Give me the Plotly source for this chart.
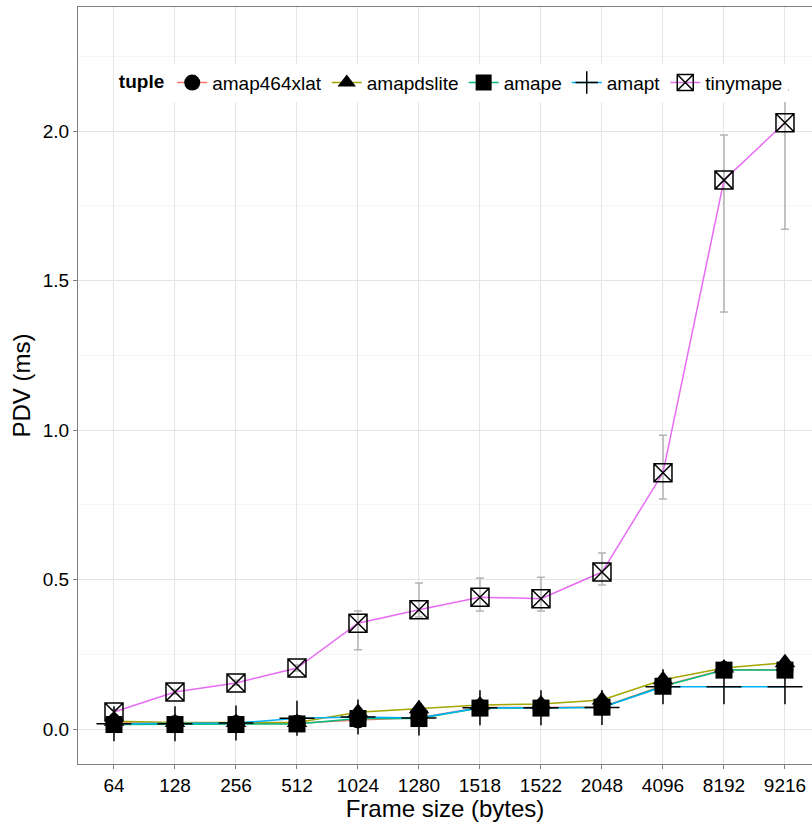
import plotly.graph_objects as go

frame_sizes = ["64", "128", "256", "512", "1024", "1280", "1518", "1522", "2048", "4096", "8192", "9216"]

amap464xlat = [0.020, 0.018, 0.018, 0.019, 0.030, 0.038, 0.072, 0.072, 0.074, 0.145, 0.198, 0.198]
amapdslite = [0.026, 0.022, 0.022, 0.022, 0.056, 0.068, 0.080, 0.084, 0.097, 0.165, 0.204, 0.222]
amape = [0.015, 0.015, 0.015, 0.017, 0.035, 0.035, 0.070, 0.070, 0.073, 0.143, 0.197, 0.197]
amapt = [0.018, 0.018, 0.020, 0.036, 0.040, 0.037, 0.071, 0.071, 0.072, 0.141, 0.141, 0.141]
tinymape = [0.057, 0.124, 0.154, 0.204, 0.354, 0.399, 0.441, 0.436, 0.525, 0.857, 1.836, 2.028]
tinymape_hi = [0.066, 0.132, 0.163, 0.214, 0.395, 0.488, 0.505, 0.508, 0.589, 0.983, 1.987, 2.137]
tinymape_lo = [0.048, 0.116, 0.146, 0.194, 0.265, 0.375, 0.395, 0.395, 0.482, 0.769, 1.395, 1.672]

series = [
    ("amap464xlat", amap464xlat, "#F8766D", dict(symbol="circle", size=17, color="black")),
    ("amapdslite", amapdslite, "#A3A500", dict(symbol="triangle-up", size=18, color="black")),
    ("amape", amape, "#00BF7D", dict(symbol="square", size=17, color="black")),
    ("amapt", amapt, "#00B0F6", dict(symbol="cross-thin", size=25, color="black", line=dict(width=1.5, color="black"))),
    ("tinymape", tinymape, "#E76BF3", dict(symbol="square-x-open", size=18, color="black", line=dict(width=1.5, color="black"))),
]

fig = go.Figure()

# error bars (grey) for tinymape
fig.add_trace(go.Scatter(
    x=frame_sizes, y=tinymape, mode="markers",
    marker=dict(size=1, color="rgba(0,0,0,0)"),
    error_y=dict(type="data", symmetric=False,
                 array=[h - v for h, v in zip(tinymape_hi, tinymape)],
                 arrayminus=[v - l for v, l in zip(tinymape, tinymape_lo)],
                 color="#B3B3B3", thickness=1.5, width=4),
    showlegend=False, hoverinfo="skip"))

# lines
for name, vals, col, mk in series:
    fig.add_trace(go.Scatter(x=frame_sizes, y=vals, mode="lines",
                             line=dict(color=col, width=1.5),
                             showlegend=False, legendgroup=name))
# markers
for name, vals, col, mk in series:
    fig.add_trace(go.Scatter(x=frame_sizes, y=vals, mode="markers",
                             marker=mk, showlegend=False, legendgroup=name))
# legend entries
for name, vals, col, mk in series:
    fig.add_trace(go.Scatter(x=[None], y=[None], mode="lines+markers", name=name,
                             line=dict(color=col, width=1.5), marker=mk,
                             legendgroup=name))

fig.update_layout(
    width=812, height=822,
    margin=dict(l=78, r=0, t=7, b=58),
    paper_bgcolor="white", plot_bgcolor="white",
    font=dict(family="Liberation Sans, Arial, sans-serif", color="black", size=19),
    showlegend=True,
    legend=dict(orientation="h", x=0.51, y=0.9, xanchor="center", yanchor="middle",
                bgcolor="white", font=dict(size=19), itemwidth=30,
                title=dict(text="<b>tuple</b>", font=dict(size=19))),
    xaxis=dict(type="category", categoryorder="array", categoryarray=frame_sizes,
               range=[-0.59, 11.443],
               showgrid=True, gridcolor="#E5E5E5", gridwidth=1,
               showline=True, linecolor="#7F7F7F", linewidth=1, mirror=True,
               ticks="outside", ticklen=4, tickcolor="#7F7F7F",
               tickfont=dict(size=19, color="black"),
               title=dict(text="Frame size (bytes)", font=dict(size=24), standoff=0),
               zeroline=False),
    yaxis=dict(range=[-0.117, 2.415], tickvals=[0, 0.5, 1.0, 1.5, 2.0],
               ticktext=["0.0", "0.5", "1.0", "1.5", "2.0"],
               showgrid=True, gridcolor="#E5E5E5", gridwidth=1,
               minor=dict(tickvals=[-0.25, 0.25, 0.75, 1.25, 1.75, 2.25],
                          showgrid=True, gridcolor="#F5F5F5", gridwidth=1, ticks=""),
               showline=True, linecolor="#7F7F7F", linewidth=1, mirror=False,
               ticks="outside", ticklen=4, tickcolor="#7F7F7F",
               tickfont=dict(size=19, color="black"),
               title=dict(text="PDV (ms)", font=dict(size=24), standoff=5),
               zeroline=False),
)

fig.write_html("out.html")
